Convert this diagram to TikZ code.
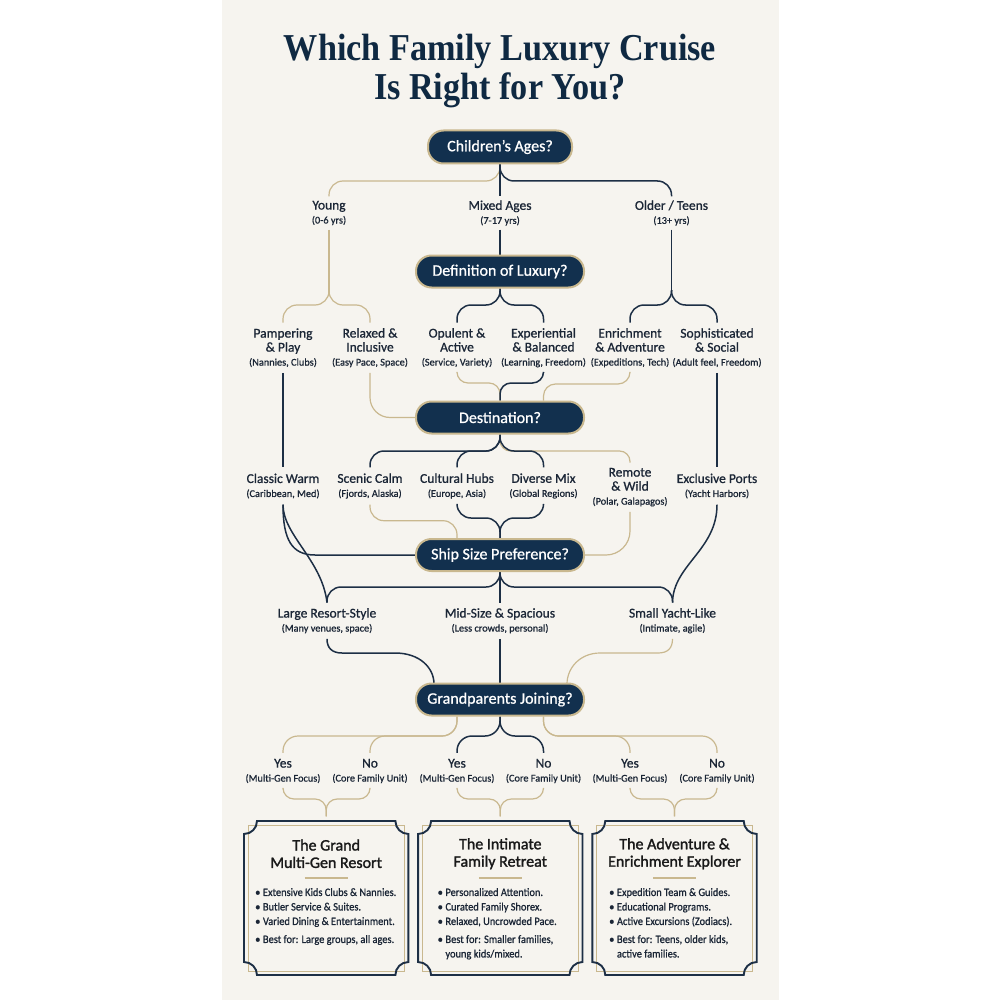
\documentclass[tikz,border=0pt]{standalone}
\usepackage{fontspec}
\usetikzlibrary{calc}
\setmainfont{Carlito}[RawFeature={embolden=0.9}]
\newfontfamily\titlefont{Liberation Serif Bold}[FakeStretch=0.9]
\newfontfamily\cardfont{Carlito}[RawFeature={embolden=1.6}]
\newfontfamily\listfont{Carlito}[FakeStretch=0.92,RawFeature={embolden=0.9}]
\definecolor{navy}{HTML}{12304E}
\definecolor{ink}{HTML}{1B2636}
\definecolor{wire}{HTML}{1D2F45}
\definecolor{gold}{HTML}{C9B88F}
\definecolor{paper}{HTML}{F6F4EF}
\pgfdeclarelayer{panel}
\pgfdeclarelayer{wires}
\pgfsetlayers{panel,wires,main}
\tikzset{
  pill/.style={rectangle,rounded corners=15.5pt,fill=navy,draw=gold,line width=2pt,
    text=white,inner sep=0pt,minimum height=32pt,minimum width=168pt,font=\fontsize{16}{18}\selectfont},
  lab/.style={rectangle,inner sep=0pt,align=center,text=ink,minimum width=40pt,font=\fontsize{13.5}{14}\selectfont},
  card/.style={rectangle,inner sep=0pt,minimum width=164.4pt,minimum height=154pt},
  cardtitle/.style={rectangle,inner sep=0pt,align=center,text=black!90,font=\cardfont\fontsize{16}{17.4}\selectfont},
  cardlist/.style={rectangle,inner sep=0pt,anchor=north west,text=ink,font=\listfont\fontsize{11.3}{14.5}\selectfont},
  nv/.style={draw=wire,line width=1.5pt},
  gd/.style={draw=gold,line width=1.2pt},
}
\newcommand{\sublab}[1]{{\fontsize{10.3}{13.5}\selectfont #1}}
% style, start, level of the run, end, radius
\newcommand{\brc}[5]{\draw[#1,rounded corners=#5] (#2) -- (#2 |- 0,#3) -- (#4 |- 0,#3) -- (#4);}
\newcommand{\cardframe}[1]{%
  \begin{scope}[shift={(#1.center)}]
    \draw[gold,line width=.9pt] (-78.2,-73) rectangle (78.2,73);
    \fill[paper] (-69.2,-77) .. controls (-69.2,-69.8) and (-75,-64) .. (-82.2,-64)
      -- (-82.2,64) .. controls (-75,64) and (-69.2,69.8) .. (-69.2,77)
      -- (69.2,77) .. controls (69.2,69.8) and (75,64) .. (82.2,64)
      -- (82.2,-64) .. controls (75,-64) and (69.2,-69.8) .. (69.2,-77) -- cycle;
    \draw[gold,line width=.9pt] (-78.2,-64) -- (-78.2,64) (78.2,-64) -- (78.2,64)
      (-69,-73) -- (69,-73) (-69,73) -- (69,73);
    \draw[wire,line width=1.9pt] (-69.2,-77) .. controls (-69.2,-69.8) and (-75,-64) .. (-82.2,-64)
      -- (-82.2,64) .. controls (-75,64) and (-69.2,69.8) .. (-69.2,77)
      -- (69.2,77) .. controls (69.2,69.8) and (75,64) .. (82.2,64)
      -- (82.2,-64) .. controls (75,-64) and (69.2,-69.8) .. (69.2,-77) -- cycle;
    \draw[gold,line width=1.1pt] (-21.5,-20) -- (21.5,-20);
  \end{scope}}
\newcommand{\bulletrows}[1]{\begin{tabular}{@{}l@{\hspace{2.6pt}}l@{}}#1\end{tabular}}
\begin{document}
\begin{tikzpicture}[x=1pt,y=-1pt]
\useasboundingbox (0,0) rectangle (1000,1000);
\begin{pgfonlayer}{panel}
  \fill[white] (0,0) rectangle (1000,1000);
  \fill[paper] (221.5,0) rectangle (778.5,1000);
\end{pgfonlayer}

\node[rectangle,inner sep=0pt,align=center,text=navy!85!black,font=\titlefont\fontsize{38}{39}\selectfont] (title) at (500,71.5)
  {Which Family Luxury Cruise\\Is Right for You?};

\node[pill,minimum width=144pt,minimum height=33pt] (ages) at (500,147) {Children's Ages?};
\node[pill] (luxury) at (500,271.5) {Definition of Luxury?};
\node[pill] (dest) at (500,417.5) {Destination?};
\node[pill] (ship) at (500,555) {Ship Size Preference?};
\node[pill] (grand) at (500,699.5) {Grandparents Joining?};

\node[lab,minimum height=33pt] (young) at (329,213) {Young\\\sublab{(0-6 yrs)}};
\node[lab,minimum height=33pt] (mixed) at (500,213) {Mixed Ages\\\sublab{(7-17 yrs)}};
\node[lab,minimum height=33pt] (older) at (671.5,213) {Older / Teens\\\sublab{(13+ yrs)}};

\node[lab,minimum height=50pt] (pamper) at (283,347.7) {Pampering\\\& Play\\\sublab{(Nannies, Clubs)}};
\node[lab,minimum height=50pt] (relax) at (370,347.7) {Relaxed \&\\Inclusive\\\sublab{(Easy Pace, Space)}};
\node[lab,minimum height=50pt] (opulent) at (457,347.7) {Opulent \&\\Active\\\sublab{(Service, Variety)}};
\node[lab,minimum height=50pt] (exper) at (543.5,347.7) {Experiential\\\& Balanced\\\sublab{(Learning, Freedom)}};
\node[lab,minimum height=50pt] (enrich) at (630,347.7) {Enrichment\\\& Adventure\\\sublab{(Expeditions, Tech)}};
\node[lab,minimum height=50pt] (sophis) at (717,347.7) {Sophisticated\\\& Social\\\sublab{(Adult feel, Freedom)}};

\node[lab,minimum height=37pt] (classic) at (283,486) {Classic Warm\\\sublab{(Caribbean, Med)}};
\node[lab,minimum height=37pt] (scenic) at (370,486) {Scenic Calm\\\sublab{(Fjords, Alaska)}};
\node[lab,minimum height=37pt] (cultural) at (457,486) {Cultural Hubs\\\sublab{(Europe, Asia)}};
\node[lab,minimum height=37pt] (diverse) at (543.5,486) {Diverse Mix\\\sublab{(Global Regions)}};
\node[lab,minimum height=49pt] (remote) at (630,487.2) {Remote\\\& Wild\\\sublab{(Polar, Galapagos)}};
\node[lab,minimum height=37pt] (excl) at (717,486) {Exclusive Ports\\\sublab{(Yacht Harbors)}};

\node[lab,minimum height=36pt] (large) at (327,620.7) {Large Resort-Style\\\sublab{(Many venues, space)}};
\node[lab,minimum height=36pt] (mid) at (500,620.7) {Mid-Size \& Spacious\\\sublab{(Less crowds, personal)}};
\node[lab,minimum height=36pt] (small) at (672.5,620.7) {Small Yacht-Like\\\sublab{(Intimate, agile)}};

\node[lab,minimum height=36pt] (yesa) at (283,771) {Yes\\\sublab{(Multi-Gen Focus)}};
\node[lab,minimum height=36pt] (noa) at (370,771) {No\\\sublab{(Core Family Unit)}};
\node[lab,minimum height=36pt] (yesb) at (457,771) {Yes\\\sublab{(Multi-Gen Focus)}};
\node[lab,minimum height=36pt] (nob) at (543.5,771) {No\\\sublab{(Core Family Unit)}};
\node[lab,minimum height=36pt] (yesc) at (630,771) {Yes\\\sublab{(Multi-Gen Focus)}};
\node[lab,minimum height=36pt] (noc) at (717,771) {No\\\sublab{(Core Family Unit)}};

\node[card] (carda) at (326.2,898) {};
\node[card] (cardb) at (500.3,898) {};
\node[card] (cardc) at (674.5,898) {};
\cardframe{carda}\cardframe{cardb}\cardframe{cardc}

\node[cardtitle] (ta) at (326.2,853.7) {The Grand\\Multi-Gen Resort};
\node[cardtitle] (tb) at (500.3,853.7) {The Intimate\\Family Retreat};
\node[cardtitle] (tc) at (674.5,853.7) {The Adventure \&\\Enrichment Explorer};

\node[cardlist] (la) at (255,885.6) {\bulletrows{%
  • & Extensive Kids Clubs \& Nannies.\\
  • & Butler Service \& Suites.\\
  • & Varied Dining \& Entertainment.\\[3.5pt]
  • & Best for: Large groups, all ages.}};
\node[cardlist] (lb) at (437.5,885.6) {\bulletrows{%
  • & Personalized Attention.\\
  • & Curated Family Shorex.\\
  • & Relaxed, Uncrowded Pace.\\[3.5pt]
  • & Best for: Smaller families,\\
    & young kids/mixed.}};
\node[cardlist] (lc) at (609,885.6) {\bulletrows{%
  • & Expedition Team \& Guides.\\
  • & Educational Programs.\\
  • & Active Excursions (Zodiacs).\\[3.5pt]
  • & Best for: Teens, older kids,\\
    & active families.}};

\begin{pgfonlayer}{wires}
  % gold runs first, so that navy lies over them
  \brc{gd}{ages.south}{181}{young.north}{14}
  \draw[gd] (young.south) -- (young.south |- 0,295);
  \brc{gd}{young.south |- 0,290}{305}{pamper.north}{14}
  \brc{gd}{young.south |- 0,290}{305}{relax.north}{14}
  \draw[gd,rounded corners=20] (relax.south) |- (dest.west);
  \brc{gd}{opulent.south}{383}{dest.north}{11}
  \brc{gd}{enrich.south}{384}{exper.south |- dest.north}{12}
  \brc{gd}{dest.south}{451}{remote.north}{10.5}
  \brc{gd}{scenic.south}{520.7}{cultural.south |- ship.north}{14}
  \draw[gd,rounded corners=24] (remote.south) |- (ship.east);
  \draw[gd] (small.south) .. controls (672.5,648) and (668,653) .. (658,653) -- (600,653)
    .. controls (580,653) and (567,668) .. (567,684);
  \brc{gd}{yesb.north |- grand.south}{736}{yesa.north}{15}
  \brc{gd}{yesb.north |- grand.south}{736}{noa.north}{15}
  \brc{gd}{nob.north |- grand.south}{736}{yesc.north}{15}
  \brc{gd}{nob.north |- grand.south}{736}{noc.north}{15}
  \begin{scope}[shorten >=4.5pt]
    \brc{gd}{yesa.south}{799}{carda.north}{11}
    \brc{gd}{noa.south}{799}{carda.north}{11}
    \brc{gd}{yesb.south}{799}{cardb.north}{11}
    \brc{gd}{nob.south}{799}{cardb.north}{11}
    \brc{gd}{yesc.south}{799}{cardc.north}{11}
    \brc{gd}{noc.south}{799}{cardc.north}{11}
  \end{scope}
  % navy runs
  \brc{nv}{ages.south}{181}{older.north}{14}
  \draw[nv] (ages.south) -- (mixed.north);
  \draw[nv] (mixed.south) -- (luxury.north);
  \brc{nv}{luxury.south}{305}{opulent.north}{14}
  \brc{nv}{luxury.south}{305}{exper.north}{14}
  \draw[nv] (older.south) -- (older.south |- 0,295);
  \brc{nv}{older.south |- 0,290}{305}{enrich.north}{14}
  \brc{nv}{older.south |- 0,290}{305}{sophis.north}{14}
  \draw[nv] (pamper.south) -- (classic.north);
  \draw[nv] (sophis.south) -- (excl.north);
  \brc{nv}{exper.south}{383}{dest.north}{11}
  \brc{nv}{dest.south}{451}{scenic.north}{14}
  \brc{nv}{dest.south}{451}{cultural.north}{14}
  \brc{nv}{dest.south}{451}{diverse.north}{14}
  \brc{nv}{cultural.south}{518}{ship.north}{14}
  \brc{nv}{diverse.south}{518}{ship.north}{14}
  \draw[nv] (classic.south) .. controls (283,540) and (292,555) .. (315,555) -- (ship.west);
  \draw[nv] (classic.south) .. controls (283,535) and (322,560) .. (large.north);
  \draw[nv] (excl.south) .. controls (717,550) and (673,565) .. (small.north);
  \brc{nv}{ship.south}{587}{large.north}{14}
  \brc{nv}{ship.south}{587}{small.north}{14}
  \draw[nv] (ship.south) -- (mid.north);
  \draw[nv] (large.south) .. controls (327,648) and (332,653) .. (342,653) -- (395,653)
    .. controls (420,653) and (434,668) .. (434,684);
  \draw[nv] (mid.south) -- (grand.north);
  \brc{nv}{grand.south}{736}{yesb.north}{15}
  \brc{nv}{grand.south}{736}{nob.north}{15}
\end{pgfonlayer}
\end{tikzpicture}
\end{document}
